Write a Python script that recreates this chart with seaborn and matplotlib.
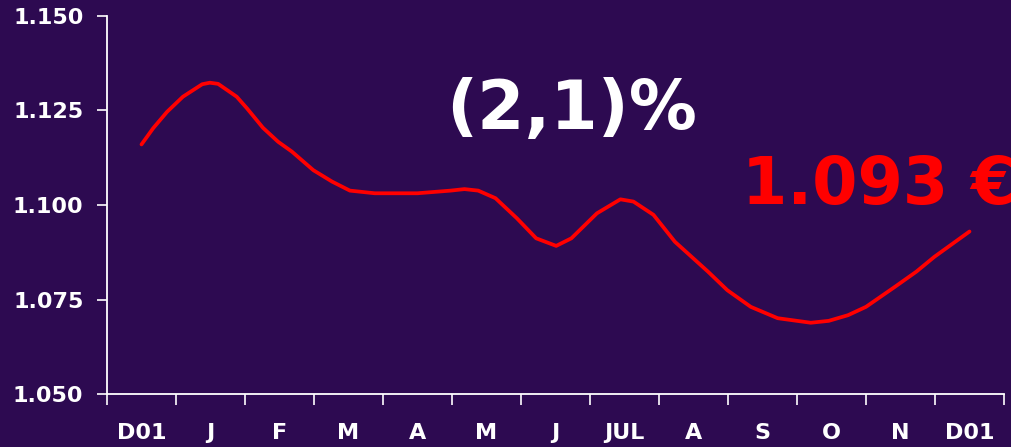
import matplotlib
matplotlib.use("Agg")
import matplotlib.pyplot as plt
import seaborn as sns
import pandas as pd

# months on the category axis (D01 .. D01)
months = ['D01', 'J', 'F', 'M', 'A', 'M', 'J', 'JUL', 'A', 'S', 'O', 'N', 'D01']

# position along the axis in month units (0 = first D01) and the price read at it
month_pos = [0.00, 0.17, 0.37, 0.60, 0.88, 0.99, 1.11, 1.38, 1.53, 1.76, 1.98, 2.18,
             2.49, 2.76, 3.02, 3.38, 3.75, 4.00, 4.48, 4.68, 4.88, 5.13, 5.44, 5.72,
             6.01, 6.23, 6.60, 6.94, 7.13, 7.42, 7.73, 8.21, 8.49, 8.83, 9.22, 9.70,
             9.96, 10.24, 10.50, 10.92, 11.23, 11.49, 12.00]
price = [1.1160, 1.1203, 1.1246, 1.1286, 1.1319, 1.1323, 1.1320, 1.1286, 1.1255, 1.1204,
         1.1167, 1.1141, 1.1092, 1.1062, 1.1038, 1.1031, 1.1031, 1.1031, 1.1038, 1.1042,
         1.1038, 1.1018, 1.0965, 1.0912, 1.0892, 1.0912, 1.0978, 1.1015, 1.1009, 1.0974,
         1.0903, 1.0824, 1.0775, 1.0731, 1.0701, 1.0689, 1.0694, 1.0709, 1.0731, 1.0784,
         1.0824, 1.0863, 1.0930]

y_ticks = [1.050, 1.075, 1.100, 1.125, 1.150]
change_text = '(2,1)%'
last_text = '1.093 €'

bg = '#2D0A51'
sns.set_style('ticks', {'axes.facecolor': bg, 'figure.facecolor': bg,
                        'axes.edgecolor': 'white'})
plt.rcParams['font.family'] = ['DejaVu Sans']
plt.rcParams['font.weight'] = 'bold'

df = pd.DataFrame({'pos': month_pos, 'price': price})

fig = plt.figure(figsize=(10.11, 4.47), dpi=100)
ax = fig.add_axes([107 / 1011, 52.7 / 447, (1004 - 107) / 1011, (394.3 - 15.7) / 447])

sns.lineplot(data=df, x='pos', y='price', ax=ax, color='#FF0000', linewidth=2.7,
             sort=False, estimator=None)

ax.set_xlim(-0.5, len(months) - 0.5)
ax.set_ylim(1.050, 1.150)
ax.set_yticks(y_ticks)
ax.set_yticklabels([f'{v:.3f}' for v in y_ticks])

# tick marks sit between categories, labels at the centres
ax.set_xticks([i - 0.5 for i in range(len(months) + 1)])
ax.set_xticklabels([])
ax.set_xticks(range(len(months)), minor=True)
ax.set_xticklabels(months, minor=True)
ax.tick_params(axis='x', which='major', direction='out', length=8, width=1.2, color='white')
ax.tick_params(axis='x', which='minor', length=0, pad=21, labelsize=16, labelcolor='white')
ax.tick_params(axis='y', direction='out', length=7, width=1.2, color='white',
               pad=10, labelsize=16, labelcolor='white')
for lab in ax.get_xticklabels(minor=True) + ax.get_yticklabels():
    lab.set_fontweight('bold')

sns.despine(ax=ax)
for s in ['left', 'bottom']:
    ax.spines[s].set_color('white')
    ax.spines[s].set_linewidth(1.3)
ax.set_xlabel('')
ax.set_ylabel('')

fig.text(572 / 1011, 1 - 110 / 447, change_text, color='white', fontsize=49,
         fontweight='bold', ha='center', va='center')
fig.text(742 / 1011, 1 - 186 / 447, last_text, color='#FF0000', fontsize=47,
         fontweight='bold', ha='left', va='center')

fig.savefig('out.png', dpi=100, facecolor=bg)
